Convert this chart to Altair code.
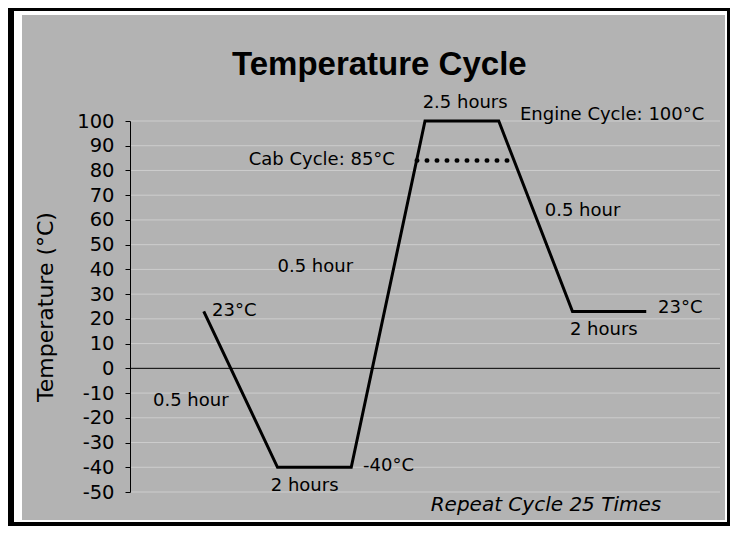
import altair as alt
import pandas as pd

# ---- data ----
x_pos = [12.5, 25, 37.5, 50, 62.5, 75, 87.5]          # relative time position (no x axis shown)
temps = [23, -40, -40, 100, 100, 23, 23]               # temperature profile (°C)

cab_x = [48.6, 65.1]
cab_temp = [84, 84]                                    # dotted "Cab Cycle" level as drawn

y_ticks = list(range(-50, 101, 10))

lab_text = ["23°C", "0.5 hour", "2 hours", "-40°C", "0.5 hour", "2.5 hours",
            "Engine Cycle: 100°C", "Cab Cycle: 85°C", "0.5 hour", "2 hours", "23°C"]
lab_x = [13.9, 10.3, 29.6, 39.5, 31.4, 56.8, 66.1, 44.9, 70.3, 80.3, 89.5]
lab_y = [23.1, -13.4, -47.4, -39.3, 40.9, 107.3, 102.4, 84.2, 63.6, 15.4, 24.5]
lab_align = ["left", "center", "center", "left", "center", "center",
             "left", "right", "left", "center", "left"]

note_text = ["Repeat Cycle 25 Times"]
note_x = [70.5]
note_y = [-55.1]

title_text = "Temperature Cycle"

# ---- tables ----
profile = pd.DataFrame({"pos": x_pos, "temp": temps, "order": list(range(len(x_pos)))})
cab = pd.DataFrame({"pos": cab_x, "temp": cab_temp})
grid = pd.DataFrame({"temp": [v for v in y_ticks if v != 0]})
zero = pd.DataFrame({"temp": [0]})
labels = pd.DataFrame({"text": lab_text, "pos": lab_x, "temp": lab_y, "align": lab_align})
notes = pd.DataFrame({"text": note_text, "pos": note_x, "temp": note_y})
one = pd.DataFrame({"a": [0]})

W, H = 590, 371
FONT = "DejaVu Sans"
GRAY = "#b3b3b3"

xs = alt.Scale(domain=[0, 100], nice=False, zero=False)
ys = alt.Scale(domain=[-50, 100], nice=False, zero=False)

y_axis = alt.Axis(
    values=y_ticks, title="Temperature (°C)", grid=False,
    labelExpr="toString(datum.value)",
    labelFont=FONT, labelFontSize=19.5, labelColor="black", labelPadding=11,
    labelOverlap=False, labelBound=False, labelFlush=False, labelSeparation=0,
    titleFont=FONT, titleFontSize=22, titleFontWeight="normal", titleColor="black",
    titlePadding=19,
    domainColor="black", domainWidth=1, tickColor="black", tickSize=5, tickWidth=1,
    zindex=1)

Y = alt.Y("temp:Q", scale=ys, axis=y_axis)
X = alt.X("pos:Q", scale=xs, axis=None)


def box(x1, x2, y1, y2, color):
    return alt.Chart(one).mark_rect(color=color).encode(
        x=alt.value(x1), x2=alt.value(x2), y=alt.value(y1), y2=alt.value(y2))


frame_black = box(-122, 600, -113, 405, "black")
frame_white = box(-116, 597, -110, 401, "white")
frame_gray = box(-108, 595, -106, 399, GRAY)

gridlines = alt.Chart(grid).mark_rule(color="white", opacity=0.35, strokeWidth=1).encode(y=Y)

zero_line = alt.Chart(zero).mark_rule(color="black", strokeWidth=1).encode(y=Y)

line = alt.Chart(profile).mark_line(color="black", strokeWidth=3, strokeJoin="miter").encode(
    x=X, y=Y, order="order:Q")

cab_line = alt.Chart(cab).mark_line(color="black", strokeWidth=4.5, strokeDash=[0.5, 9.5],
                                    strokeCap="round").encode(x=X, y=Y)


def label_layer(al):
    return alt.Chart(labels).transform_filter(alt.datum.align == al).mark_text(
        font=FONT, fontSize=18, color="black", align=al, baseline="middle").encode(
        x=X, y=Y, text="text:N")


note = alt.Chart(notes).mark_text(font=FONT, fontSize=20, fontStyle="italic", color="black",
                                  align="center", baseline="middle").encode(
    x=X, y=Y, text="text:N")

title = alt.Chart(one).mark_text(text=title_text, font="Liberation Sans", fontSize=33,
                                 fontWeight="bold", color="black", align="left",
                                 baseline="alphabetic").encode(
    x=alt.value(102), y=alt.value(-46))

chart = alt.layer(
    frame_black, frame_white, frame_gray, gridlines, zero_line, line, cab_line,
    label_layer("left"), label_layer("center"), label_layer("right"), note, title
).properties(
    width=W, height=H,
    padding={"left": 122, "top": 113, "right": 10, "bottom": 34},
    autosize=alt.AutoSizeParams(type="none"),
    background="white",
).configure_view(stroke=None).configure_axis(labelOverlap=False).configure_axisY(
    labelOverlap=False)

chart.save("out.html", embed_options={"renderer": "svg", "actions": False})
